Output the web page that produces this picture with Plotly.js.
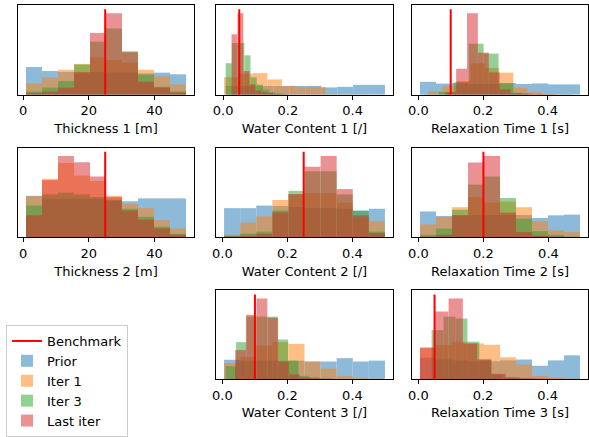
<!DOCTYPE html>
<html>
<head>
<meta charset="utf-8">
<script src="https://cdn.plot.ly/plotly-3.0.1.min.js"></script>
<style>html,body{margin:0;padding:0;background:#fff;}#chart{width:589px;height:437px;}</style>
</head>
<body>
<div id="chart"></div>
<script>
// ---------------- DATA ----------------
const axisLabels = ['Thickness 1 [m]', 'Water Content 1 [/]', 'Relaxation Time 1 [s]',
                    'Thickness 2 [m]', 'Water Content 2 [/]', 'Relaxation Time 2 [s]',
                    'Water Content 3 [/]', 'Relaxation Time 3 [s]'];
const benchmark = [25, 0.05, 0.1, 25, 0.25, 0.2, 0.1, 0.05];
const seriesNames = ['Prior', 'Iter 1', 'Iter 3', 'Last iter'];

// histogram bin ranges [min, max] (10 equal bins each) and bin heights
const priorRange = [[0.9, 49.6], [0.008, 0.5], [0.005, 0.5], [0.9, 49.6], [0.005, 0.5], [0.005, 0.497], [0.005, 0.5], [0.005, 0.5]];
const priorCounts = [
  [31, 26.5, 25.5, 23.6, 25.5, 25, 25, 24, 24.7, 22.9],
  [10, 10, 10, 10, 10.2, 10.2, 8.4, 9.1, 11.3, 11.3],
  [14.5, 12.5, 13, 12, 12, 13, 12, 12.7, 11.6, 11.6],
  [46.5, 43, 43, 43, 43, 41, 40.4, 43.6, 43.6, 43.6],
  [32.7, 32.7, 35.6, 35, 34, 33, 33, 32, 29.8, 32],
  [29, 24, 25, 25, 25, 25, 25, 21.8, 24.7, 25.5],
  [22, 21, 21, 21, 21, 20, 20, 23.8, 20, 21],
  [24, 22, 21, 20, 20, 21, 22, 15, 21, 26.7]
];
const iter1Range = [[0.9, 49.6], [0.003, 0.45], [0.03, 0.47], [0.9, 49.6], [0.005, 0.5], [0.005, 0.497], [0.005, 0.5], [0.005, 0.5]];
const iter1Counts = [
  [12.7, 19.3, 28, 34.5, 41.8, 39, 36, 28, 20.7, 11.6],
  [20, 24, 24.7, 17.5, 10, 9, 9, 1, 0.5, 0.3],
  [4, 10, 15.3, 35, 30, 24.7, 8, 3, 1, 0.5],
  [46, 65.5, 83, 69, 63, 46.5, 37.5, 32.7, 19.3, 10],
  [3, 16.7, 23.6, 41.8, 48, 49.5, 49.5, 39, 21, 18],
  [14.5, 23, 33.8, 45, 39, 40, 33.8, 18, 8, 6],
  [18, 25, 38, 42, 40, 20, 12, 3.7, 1, 0.5],
  [35, 38, 42, 40, 38.5, 24.5, 16.5, 3.7, 1.8, 0.7]
];
const iter3Range = [[0.9, 49.6], [0.008, 0.2], [0.017, 0.479], [0.9, 49.6], [0.005, 0.5], [0.005, 0.497], [0.01, 0.33], [0.041, 0.41]];
const iter3Counts = [
  [3.6, 8, 15.3, 33.8, 59.3, 74, 48.5, 22.5, 9, 3.6],
  [36, 59, 59, 45, 20, 11.6, 6, 3, 1.5, 0.8],
  [0.5, 3, 14, 57, 46, 13, 2, 0.5, 0.3, 0.2],
  [35.6, 48, 50, 48, 45, 42, 32, 23, 12, 4],
  [2, 4.4, 6.5, 30, 52, 73.8, 73.8, 48, 30, 6.5],
  [3, 10, 31, 59, 68, 44, 21, 7, 3, 1],
  [14.7, 42, 71, 71, 71, 45, 21, 3.7, 2, 0.7],
  [55, 70, 68, 42, 22, 5, 2, 1, 0.5, 0.3]
];
const lastRange = [[0.9, 49.6], [0.026, 0.21], [0.083, 0.42], [0.9, 49.6], [0.005, 0.5], [0.005, 0.497], [0.039, 0.37], [0.005, 0.447]];
const lastCounts = [
  [2, 3.6, 8, 25.5, 69, 91, 47.5, 14.5, 8, 2.5],
  [69, 93, 27, 12, 5, 3, 2, 1, 0.5, 0.3],
  [3, 29, 91, 47, 25, 6, 2, 1, 0.5, 0.3],
  [24.7, 64, 91, 84, 68, 45, 30, 20, 10, 3],
  [1, 2, 4, 28, 48.4, 79, 91, 54, 24.7, 5],
  [1, 3, 24.7, 83.6, 91, 27.6, 6, 2, 1, 0.5],
  [33, 73, 91.6, 69.6, 20, 5.5, 2, 1, 0.5, 0.3],
  [35.5, 75.8, 90.5, 40, 22, 6, 2, 1, 0.5, 0.3]
];

// ---------------- LAYOUT / STYLE ----------------
const W = 589, H = 437;
const colors = ['#1f77b4', '#ff7f0e', '#2ca02c', '#d62728'];
const cells = [[0,0],[0,1],[0,2],[1,0],[1,1],[1,2],[2,1],[2,2]];
const colPx = [[18,194],[216,393],[412,588]];
const rowPx = [[5,97],[151,243],[297,388]];
const FONT = {family: 'DejaVu Sans, sans-serif', size: 13, color: '#000'};

const ranges = [priorRange, iter1Range, iter3Range, lastRange];
const counts = [priorCounts, iter1Counts, iter3Counts, lastCounts];

const traces = [];
const layout = {
  width: W, height: H,
  margin: {l: 0, r: 0, t: 0, b: 0},
  paper_bgcolor: '#fff', plot_bgcolor: '#fff',
  barmode: 'overlay',
  font: FONT,
  showlegend: true,
  legend: {
    x: 6 / W, y: 1 - 333 / H, xanchor: 'left', yanchor: 'top',
    bgcolor: 'rgba(255,255,255,0.8)', bordercolor: '#cccccc', borderwidth: 1,
    font: {family: 'DejaVu Sans, sans-serif', size: 13, color: '#000'},
    traceorder: 'normal', tracegroupgap: 0
  }
};

axisLabels.forEach((label, i) => {
  const sfx = i === 0 ? '' : String(i + 1);
  const xa = 'x' + sfx, ya = 'y' + sfx;
  const [r, c] = cells[i];
  let lo = benchmark[i], hi = benchmark[i], maxC = 0;
  for (let s = 0; s < 4; s++) {
    const [a, b] = ranges[s][i];
    lo = Math.min(lo, a); hi = Math.max(hi, b);
    const cs = counts[s][i];
    maxC = Math.max(maxC, ...cs);
    const w = (b - a) / cs.length;
    traces.push({
      type: 'bar', xaxis: xa, yaxis: ya,
      x: cs.map((_, k) => a + (k + 0.5) * w),
      y: cs, width: cs.map(() => w),
      marker: {color: colors[s], line: {width: 0}},
      opacity: 0.5,
      name: seriesNames[s], legendgroup: seriesNames[s],
      showlegend: i === 0, legendrank: s + 2,
      hoverinfo: 'skip'
    });
  }
  const lineTop = maxC * 1.05;
  traces.push({
    type: 'scatter', mode: 'lines', xaxis: xa, yaxis: ya,
    x: [benchmark[i], benchmark[i]], y: [0, lineTop],
    line: {color: '#ff0000', width: 2},
    name: 'Benchmark', legendgroup: 'Benchmark',
    showlegend: i === 0, legendrank: 1, hoverinfo: 'skip'
  });
  const span = hi - lo;
  const isThick = label.startsWith('Thickness');
  layout['xaxis' + sfx] = {
    domain: [colPx[c][0] / W, colPx[c][1] / W],
    anchor: ya,
    range: [lo - 0.05 * span, hi + 0.05 * span],
    tickmode: 'linear', tick0: 0, dtick: isThick ? 20 : 0.2,
    tickformat: isThick ? 'd' : '.1f',
    ticks: 'outside', ticklen: 4, tickwidth: 1, tickcolor: '#000',
    showline: true, mirror: true, linecolor: '#000', linewidth: 1,
    showgrid: false, zeroline: false,
    tickfont: FONT,
    title: {text: label, font: FONT, standoff: 6},
    automargin: false
  };
  layout['yaxis' + sfx] = {
    domain: [1 - rowPx[r][1] / H, 1 - rowPx[r][0] / H],
    anchor: xa,
    range: [0, lineTop * 1.05],
    showticklabels: false, ticks: '',
    showline: true, mirror: true, linecolor: '#000', linewidth: 1,
    showgrid: false, zeroline: false
  };
});

Plotly.newPlot('chart', traces, layout, {displayModeBar: false, staticPlot: true});
</script>
</body>
</html>
